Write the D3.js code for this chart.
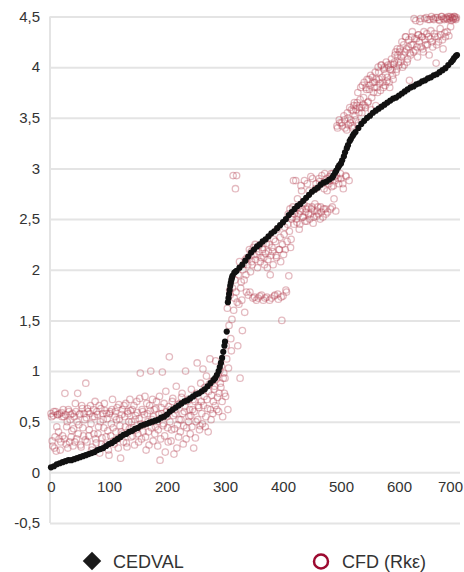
<!DOCTYPE html>
<html>
<head>
<meta charset="utf-8">
<script src="https://cdn.jsdelivr.net/npm/d3@7"></script>
<style>
  body { margin: 0; background: #fff; }
  svg { display: block; font-family: "Liberation Sans", Arial, sans-serif; }
</style>
</head>
<body>
<div id="chart"></div>
<script>
// sample index of the CEDVAL points (sorted curve)
const cedvalIdx = [
  0, 5, 10, 15, 20, 25, 30, 35, 40, 45, 50, 55, 60, 65, 70, 75, 80, 85, 90, 95,
  100, 105, 110, 115, 120, 125, 130, 135, 140, 145, 150, 155, 160, 165, 170, 175, 180, 185, 190, 195,
  200, 205, 210, 215, 220, 225, 230, 235, 240, 245, 250, 255, 260, 265, 270, 275, 280, 283, 286, 289,
  291, 293, 295, 297, 299, 300, 303,
  305, 306, 307, 308, 309, 310, 311, 312, 313, 316, 318, 320, 325, 330, 335, 340, 345, 350, 355, 360,
  365, 370, 375, 380, 385, 390, 395, 400, 405, 410, 415, 420, 425, 430, 435, 440, 445, 450, 455, 460,
  465, 470, 475, 480, 485, 487, 490, 492, 495, 497, 500, 502, 505, 507, 510, 512, 515, 517, 520, 522,
  525, 530, 535, 540, 545, 550, 555, 560, 565, 570, 575, 580, 585, 590, 595, 600, 605, 610, 615, 620,
  625, 630, 635, 640, 645, 650, 655, 660, 665, 670, 675, 680, 685, 690, 693, 695, 698, 700
];
const cedvalVal = [
  0.05, 0.06, 0.08, 0.09, 0.10, 0.11, 0.12, 0.12, 0.13, 0.14, 0.15, 0.16, 0.17, 0.18, 0.19, 0.20, 0.22, 0.23, 0.24, 0.26,
  0.28, 0.29, 0.31, 0.33, 0.35, 0.37, 0.38, 0.40, 0.41, 0.43, 0.44, 0.46, 0.47, 0.48, 0.49, 0.50, 0.51, 0.52, 0.54, 0.55,
  0.57, 0.60, 0.62, 0.64, 0.66, 0.68, 0.70, 0.71, 0.73, 0.75, 0.77, 0.78, 0.80, 0.82, 0.85, 0.88, 0.91, 0.93, 0.96, 1.00,
  1.04, 1.08, 1.13, 1.19, 1.25, 1.29, 1.39,
  1.68, 1.72, 1.76, 1.80, 1.84, 1.87, 1.90, 1.92, 1.94, 1.97, 1.98, 1.99, 2.02, 2.05, 2.09, 2.13, 2.17, 2.20, 2.23, 2.25,
  2.28, 2.30, 2.33, 2.36, 2.38, 2.41, 2.44, 2.47, 2.50, 2.54, 2.57, 2.60, 2.63, 2.65, 2.68, 2.71, 2.74, 2.77, 2.79, 2.81,
  2.84, 2.86, 2.87, 2.89, 2.91, 2.93, 2.96, 2.98, 3.01, 3.03, 3.05, 3.08, 3.12, 3.16, 3.20, 3.23, 3.27, 3.29, 3.32, 3.34,
  3.36, 3.40, 3.44, 3.47, 3.50, 3.52, 3.55, 3.57, 3.59, 3.61, 3.63, 3.65, 3.67, 3.69, 3.70, 3.72, 3.74, 3.76, 3.78, 3.80,
  3.81, 3.83, 3.84, 3.86, 3.87, 3.89, 3.90, 3.92, 3.93, 3.95, 3.97, 3.99, 4.02, 4.05, 4.07, 4.09, 4.11, 4.12
];

// CFD (Rk-eps) values at even sample index (0, 2, 4 ... 698)
const cfdEven = [
  0.58, 0.31, 0.56, 0.24, 0.60, 0.45, 0.57, 0.33, 0.22, 0.59,
  0.36, 0.55, 0.78, 0.28, 0.50, 0.62, 0.30, 0.57, 0.41, 0.26,
  0.55, 0.68, 0.33, 0.78, 0.47, 0.58, 0.25, 0.63, 0.36, 0.52,
  0.88, 0.30, 0.60, 0.42, 0.66, 0.22, 0.55, 0.38, 0.70, 0.29,
  0.57, 0.45, 0.19, 0.63, 0.34, 0.52, 0.68, 0.27, 0.58, 0.41,
  0.17, 0.60, 0.48, 0.72, 0.31, 0.55, 0.40, 0.64, 0.24, 0.53,
  0.14, 0.57, 0.38, 0.66, 0.45, 0.29, 0.60, 0.50, 0.72, 0.35,
  0.62, 0.44, 0.27, 0.56, 0.70, 0.38, 0.53, 0.98, 0.33, 0.60,
  0.47, 0.75, 0.22, 0.58, 0.40, 0.66, 1.00, 0.52, 0.31, 0.62,
  0.45, 0.70, 0.26, 0.57, 0.12, 0.64, 0.99, 0.48, 0.36, 0.80,
  0.55, 0.30, 1.14, 0.62, 0.42, 0.73, 0.18, 0.58, 0.85, 0.47,
  0.35, 0.68, 0.52, 0.78, 0.28, 0.60, 1.00, 0.44, 0.72, 0.55,
  0.38, 0.82, 0.62, 0.24, 0.70, 0.50, 1.08, 0.66, 0.42, 0.88,
  0.58, 1.02, 0.75, 0.45, 0.95, 0.63, 0.80, 1.12, 0.52, 0.90,
  0.70, 0.85, 1.10, 0.62, 0.96, 0.78, 0.88, 1.05, 0.55, 0.98,
  0.93, 1.25, 1.62, 1.03, 1.80, 1.32, 1.51, 2.93, 1.72, 2.80,
  2.93, 1.25, 1.66, 0.93, 1.88, 1.40, 2.05, 1.58, 1.95, 2.12,
  1.75, 2.20, 1.98, 2.08, 1.72, 2.15, 2.25, 1.70, 2.02, 2.18,
  1.74, 2.12, 2.22, 1.70, 2.05, 2.16, 1.73, 2.10, 2.25, 1.95,
  1.72, 2.18, 2.30, 1.75, 2.14, 2.40, 1.71, 2.20, 2.08, 1.50,
  1.74, 2.35, 2.20, 1.78, 2.45, 1.94, 2.60, 2.30, 2.52, 2.88,
  2.55, 2.88, 2.47, 2.62, 2.40, 2.58, 2.78, 2.52, 2.65, 2.48,
  2.60, 2.85, 2.55, 2.50, 2.92, 2.62, 2.46, 2.58, 2.80, 2.53,
  2.62, 2.90, 2.50, 2.57, 2.85, 2.60, 2.95, 2.55, 2.78, 2.88,
  2.92, 2.60, 2.82, 2.95, 2.70, 2.88, 2.93, 3.40, 2.85, 3.45,
  2.90, 3.42, 2.80, 3.48, 2.93, 3.38, 3.50, 2.88, 3.45, 3.58,
  3.40, 3.62, 3.52, 3.58, 3.65, 3.45, 3.60, 3.80, 3.55, 3.63,
  3.85, 3.60, 3.78, 3.65, 3.88, 3.82, 3.58, 3.90, 3.75, 3.85,
  3.62, 3.80, 4.00, 3.88, 3.77, 4.02, 3.85, 3.98, 3.82, 4.05,
  3.90, 4.00, 3.80, 4.03, 3.97, 3.88, 4.05, 4.15, 3.98, 4.12,
  4.02, 4.18, 4.10, 4.00, 4.22, 4.15, 4.30, 4.05, 4.20, 3.87,
  4.12, 4.30, 4.22, 4.48, 4.17, 4.28, 4.10, 4.32, 4.45, 4.20,
  4.30, 4.15, 4.48, 4.22, 4.33, 4.47, 4.12, 4.28, 4.50, 4.20,
  4.47, 4.30, 4.04, 4.49, 4.25, 4.46, 4.32, 4.50, 4.18, 4.47,
  4.30, 4.48, 4.47, 4.31, 4.50, 4.46, 4.49, 4.48, 4.50, 4.47
];

// CFD (Rk-eps) values at odd sample index (1, 3, 5 ... 699)
const cfdOdd = [
  0.55, 0.26, 0.60, 0.35, 0.21, 0.57, 0.40, 0.58, 0.30, 0.55,
  0.62, 0.33, 0.57, 0.45, 0.24, 0.60, 0.52, 0.35, 0.58, 0.43,
  0.30, 0.60, 0.50, 0.38, 0.57, 0.27, 0.66, 0.44, 0.58, 0.32,
  0.54, 0.63, 0.36, 0.58, 0.48, 0.25, 0.62, 0.55, 0.33, 0.60,
  0.38, 0.66, 0.50, 0.28, 0.58, 0.44, 0.61, 0.35, 0.53, 0.22,
  0.58, 0.36, 0.62, 0.44, 0.28, 0.60, 0.52, 0.33, 0.67, 0.46,
  0.40, 0.62, 0.30, 0.55, 0.68, 0.25, 0.58, 0.43, 0.61, 0.50,
  0.36, 0.66, 0.52, 0.42, 0.59, 0.30, 0.73, 0.48, 0.62, 0.40,
  0.57, 0.35, 0.68, 0.50, 0.27, 0.61, 0.44, 0.72, 0.55, 0.38,
  0.63, 0.50, 0.42, 0.75, 0.33, 0.58, 0.46, 0.68, 0.20, 0.60,
  0.44, 0.65, 0.50, 0.31, 0.70, 0.56, 0.43, 0.62, 0.24, 0.67,
  0.52, 0.40, 0.74, 0.58, 0.46, 0.65, 0.33, 0.70, 0.50, 0.62,
  0.56, 0.45, 0.72, 0.60, 0.34, 0.78, 0.52, 0.64, 0.46, 0.70,
  0.48, 0.66, 0.84, 0.55, 0.72, 0.40, 0.87, 0.62, 0.76, 0.58,
  0.82, 0.66, 0.92, 0.74, 0.60, 1.00, 0.84, 0.70, 0.93, 0.78,
  0.75, 1.12, 0.62, 1.45, 1.75, 1.20, 1.82, 1.60, 1.90, 1.78,
  1.68, 1.95, 2.08, 1.82, 1.70, 2.00, 1.90, 2.10, 1.78, 2.05,
  2.12, 1.78, 2.18, 2.05, 2.22, 1.73, 2.10, 2.15, 1.72, 2.24,
  2.08, 1.75, 2.20, 2.12, 1.72, 2.26, 2.02, 2.18, 1.70, 2.14,
  2.22, 2.05, 1.74, 2.28, 2.12, 1.76, 2.20, 2.32, 1.73, 2.25,
  2.15, 2.42, 1.80, 2.28, 2.55, 2.38, 2.22, 2.50, 2.62, 2.45,
  2.58, 2.50, 2.70, 2.55, 2.45, 2.83, 2.60, 2.52, 2.88, 2.57,
  2.48, 2.62, 2.78, 2.55, 2.60, 2.90, 2.52, 2.65, 2.85, 2.58,
  2.55, 2.87, 2.62, 2.93, 2.52, 2.80, 2.60, 2.90, 2.57, 2.85,
  2.88, 2.95, 2.62, 2.83, 2.92, 2.58, 3.42, 2.90, 3.48, 2.95,
  3.45, 2.85, 3.52, 3.40, 2.92, 3.55, 3.43, 3.60, 3.48, 3.42,
  3.57, 3.65, 3.48, 3.62, 3.75, 3.55, 3.68, 3.60, 3.82, 3.70,
  3.62, 3.80, 3.88, 3.66, 3.78, 3.92, 3.70, 3.85, 3.80, 3.95,
  3.88, 3.75, 3.95, 3.84, 4.02, 3.90, 3.80, 4.00, 3.93, 3.86,
  4.02, 3.85, 3.98, 4.08, 3.92, 4.03, 4.12, 3.95, 4.18, 4.05,
  4.15, 4.05, 4.25, 4.12, 4.02, 4.30, 4.18, 4.08, 4.27, 4.14,
  4.22, 4.35, 4.15, 4.28, 4.46, 4.20, 4.32, 4.25, 4.48, 4.30,
  4.18, 4.35, 4.27, 4.49, 4.22, 4.30, 4.47, 4.36, 4.25, 4.48,
  4.33, 4.49, 4.22, 4.30, 4.47, 4.38, 4.50, 4.27, 4.48, 4.34,
  4.49, 4.35, 4.50, 4.48, 4.40, 4.49, 4.47, 4.50, 4.48, 4.49
];

const xTicks = [0, 100, 200, 300, 400, 500, 600, 700];
const yTicks = [-0.5, 0, 0.5, 1, 1.5, 2, 2.5, 3, 3.5, 4, 4.5];
const seriesNames = ['CEDVAL', 'CFD (Rk\u03b5)'];

const width = 464, height = 572;
const plot = { left: 50, right: 460, top: 16.5, bottom: 523 };

const locale = d3.formatLocale({ decimal: ',', thousands: '.', grouping: [3], currency: ['', ''], minus: '-' });
const fmt = locale.format('~g');

const svg = d3.select('#chart').append('svg')
  .attr('width', width)
  .attr('height', height);

const x = d3.scaleLinear().domain([0, 700]).range([51, 457]);
const y = d3.scaleLinear().domain([-0.5, 4.5]).range([plot.bottom, plot.top]);

// horizontal grid + y labels
const yAxis = svg.append('g')
  .attr('transform', `translate(${plot.left},0)`)
  .call(d3.axisLeft(y).tickValues(yTicks).tickFormat(fmt)
    .tickSize(-(plot.right - plot.left)).tickPadding(10));
yAxis.select('.domain').remove();
yAxis.selectAll('.tick line').attr('stroke', '#e4e4e4').attr('stroke-width', 2);
yAxis.selectAll('.tick text')
  .attr('fill', '#333')
  .style('font-size', '15px');

// left axis line
svg.append('line')
  .attr('x1', plot.left).attr('x2', plot.left)
  .attr('y1', plot.top).attr('y2', plot.bottom)
  .attr('stroke', '#e4e4e4').attr('stroke-width', 2);

// x labels sit under the zero line
const xAxis = svg.append('g')
  .attr('transform', `translate(0,${y(0)})`)
  .call(d3.axisBottom(x).tickValues(xTicks).tickFormat(d3.format('d')).tickSize(0).tickPadding(9));
xAxis.select('.domain').remove();
xAxis.selectAll('.tick text')
  .attr('fill', '#333')
  .style('font-size', '15px');
// last label is pushed in so it stays inside the picture
xAxis.selectAll('.tick text').filter(d => d === 700).attr('dx', -7);

// CFD points
const cfdPoints = [];
cfdEven.forEach((v, i) => cfdPoints.push({ i: i * 2, v }));
cfdOdd.forEach((v, i) => cfdPoints.push({ i: i * 2 + 1, v }));

svg.append('g').selectAll('circle')
  .data(cfdPoints)
  .join('circle')
  .attr('cx', d => x(d.i))
  .attr('cy', d => y(d.v))
  .attr('r', 3.2)
  .attr('fill', 'none')
  .attr('stroke', '#b4404f')
  .attr('stroke-opacity', 0.36)
  .attr('stroke-width', 1.3);

// CEDVAL points
svg.append('g').selectAll('circle')
  .data(cedvalVal)
  .join('circle')
  .attr('cx', (d, i) => x(cedvalIdx[i]))
  .attr('cy', d => y(d))
  .attr('r', 3.1)
  .attr('fill', '#111');

// legend
const legend = svg.append('g');
legend.append('path')
  .attr('d', d3.symbol(d3.symbolSquare, 170)())
  .attr('transform', 'translate(92,561) rotate(45)')
  .attr('fill', '#1a1a1a');
legend.append('text')
  .attr('x', 113).attr('y', 567.5)
  .attr('fill', '#333')
  .style('font-size', '18px')
  .text(seriesNames[0]);
legend.append('circle')
  .attr('cx', 321).attr('cy', 561.5).attr('r', 7)
  .attr('fill', 'none')
  .attr('stroke', '#9c0a30')
  .attr('stroke-width', 2.5);
legend.append('text')
  .attr('x', 342).attr('y', 567.5)
  .attr('fill', '#333')
  .style('font-size', '18px')
  .text(seriesNames[1]);
</script>
</body>
</html>
